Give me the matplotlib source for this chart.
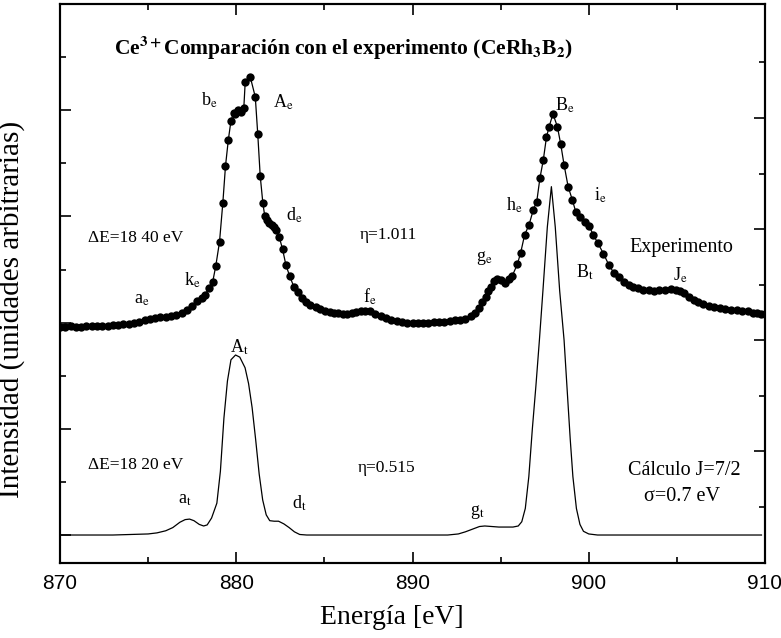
import matplotlib
matplotlib.use("Agg")
import matplotlib.pyplot as plt
from matplotlib.ticker import MultipleLocator, FixedLocator

plt.rcParams['font.family'] = ['Liberation Serif', 'DejaVu Serif']
plt.rcParams['mathtext.fontset'] = 'stix'

exp_energy = [
    870.0, 870.3, 870.6, 870.9, 871.2, 871.5, 871.8, 872.1, 872.4, 872.7,
    873.0, 873.3, 873.6, 873.9, 874.2, 874.5, 874.8, 875.1, 875.4, 875.7,
    876.0, 876.3, 876.6, 876.9, 877.2, 877.5, 877.8, 878.05, 878.24, 878.43,
    878.66, 878.84, 879.05, 879.24, 879.39, 879.55, 879.7, 879.85, 879.94, 880.09,
    880.25, 880.43, 880.51, 880.8, 881.08, 881.22, 881.36, 881.51, 881.62, 881.74,
    881.88, 882.02, 882.15, 882.27, 882.44, 882.63, 882.82, 883.03, 883.26, 883.49,
    883.73, 883.95, 884.2, 884.5, 884.77, 885.05, 885.3, 885.53, 885.8, 886.05,
    886.3, 886.55, 886.8, 887.05, 887.3, 887.6, 887.9, 888.2, 888.5, 888.8,
    889.1, 889.4, 889.7, 890.0, 890.3, 890.6, 890.9, 891.2, 891.5, 891.8,
    892.1, 892.4, 892.7, 893.0, 893.3, 893.55, 893.77, 893.95, 894.15, 894.3,
    894.43, 894.6, 894.81, 895.0, 895.23, 895.45, 895.66, 895.95, 896.14, 896.36,
    896.61, 896.86, 897.05, 897.23, 897.42, 897.6, 897.75, 897.97, 898.22, 898.41,
    898.6, 898.83, 899.07, 899.26, 899.5, 899.77, 900.02, 900.26, 900.53, 900.83,
    901.15, 901.44, 901.7, 902.0, 902.3, 902.5, 902.77, 903.05, 903.4, 903.71,
    904.0, 904.35, 904.66, 904.95, 905.2, 905.42, 905.7, 905.95, 906.18, 906.5,
    906.8, 907.12, 907.45, 907.75, 908.07, 908.4, 908.7, 909.02, 909.3, 909.55,
    909.77, 910.0,
]
exp_intensity = [
    3.92, 3.92, 3.93, 3.92, 3.92, 3.93, 3.93, 3.93, 3.94, 3.94,
    3.95, 3.95, 3.97, 3.98, 4.00, 4.02, 4.04, 4.06, 4.08, 4.10,
    4.11, 4.13, 4.15, 4.18, 4.24, 4.31, 4.40, 4.47, 4.52, 4.65,
    4.76, 5.07, 5.52, 6.26, 6.95, 7.44, 7.80, 7.95, 7.92, 8.00,
    7.97, 8.05, 8.54, 8.62, 8.25, 7.55, 6.76, 6.25, 6.00, 5.93,
    5.88, 5.84, 5.80, 5.74, 5.61, 5.38, 5.08, 4.88, 4.68, 4.58,
    4.46, 4.38, 4.33, 4.29, 4.25, 4.22, 4.20, 4.19, 4.18, 4.17,
    4.17, 4.18, 4.20, 4.21, 4.22, 4.21, 4.17, 4.12, 4.08, 4.05,
    4.03, 4.01, 4.00, 3.99, 3.99, 4.00, 4.00, 4.01, 4.01, 4.02,
    4.03, 4.04, 4.05, 4.07, 4.12, 4.19, 4.27, 4.38, 4.49, 4.60,
    4.68, 4.78, 4.83, 4.80, 4.75, 4.82, 4.88, 5.10, 5.32, 5.65,
    5.84, 6.13, 6.28, 6.72, 7.06, 7.49, 7.69, 7.93, 7.69, 7.36,
    6.97, 6.56, 6.31, 6.09, 5.99, 5.90, 5.82, 5.65, 5.49, 5.30,
    5.08, 4.93, 4.85, 4.77, 4.71, 4.68, 4.65, 4.62, 4.61, 4.60,
    4.61, 4.62, 4.63, 4.62, 4.59, 4.55, 4.49, 4.43, 4.39, 4.35,
    4.32, 4.30, 4.28, 4.26, 4.24, 4.23, 4.22, 4.21, 4.19, 4.18,
    4.17, 4.16,
]

# calculated spectrum (thin line)
calc_energy = [
    870.0, 871.0, 872.0, 873.0, 874.0, 875.0, 875.5, 876.0, 876.4, 876.8,
    877.1, 877.35, 877.6, 877.9, 878.15, 878.35, 878.6, 878.9, 879.1, 879.3,
    879.5, 879.7, 879.96, 880.2, 880.5, 880.7, 880.9, 881.1, 881.3, 881.5,
    881.7, 881.9, 882.15, 882.4, 882.7, 883.0, 883.3, 883.6, 884.0, 886.0,
    888.0, 890.0, 892.0, 892.6, 893.0, 893.4, 893.8, 894.1, 894.5, 894.9,
    895.3, 895.7, 896.0, 896.2, 896.4, 896.6, 896.8, 897.0, 897.2, 897.4,
    897.65, 897.88, 898.1, 898.35, 898.6, 898.8, 898.95, 899.1, 899.3, 899.5,
    899.7, 900.0, 900.5, 903.0, 906.0, 909.8,
]
calc_intensity = [
    0.0, 0.0, 0.0, 0.0, 0.01, 0.02, 0.04, 0.08, 0.14, 0.24,
    0.29, 0.30, 0.27, 0.20, 0.17, 0.19, 0.32, 0.60, 1.20, 2.20,
    2.90, 3.30, 3.39, 3.35, 3.15, 2.85, 2.40, 1.80, 1.15, 0.66,
    0.38, 0.27, 0.26, 0.26, 0.21, 0.14, 0.06, 0.01, 0.0, 0.0,
    0.0, 0.0, 0.0, 0.02, 0.06, 0.11, 0.16, 0.17, 0.16, 0.15,
    0.15, 0.15, 0.17, 0.25, 0.50, 1.10, 2.00, 2.80, 3.67, 4.60,
    5.80, 6.56, 5.80, 4.60, 3.67, 2.60, 1.80, 1.10, 0.50, 0.20,
    0.07, 0.02, 0.0, 0.0, 0.0, 0.0,
]

# peak labels: (letter, subscript, energy, intensity)
peak_labels = [
    ("b", "e", 878.5, 8.19), ("A", "e", 882.65, 8.14), ("d", "e", 883.3, 6.03),
    ("k", "e", 877.5, 4.80), ("a", "e", 874.65, 4.43), ("f", "e", 887.6, 4.48),
    ("g", "e", 894.1, 5.22), ("h", "e", 895.8, 6.21), ("B", "e", 898.65, 8.10),
    ("i", "e", 900.64, 6.40), ("J", "e", 905.2, 4.90), ("B", "t", 899.8, 4.95),
    ("A", "t", 880.2, 3.54), ("a", "t", 877.1, 0.66), ("d", "t", 883.6, 0.60),
    ("g", "t", 893.7, 0.43),
]

fig = plt.figure(figsize=(7.81, 6.38), dpi=100)
ax = fig.add_axes([60/781, 75/638, 705/781, 559/638])

ax.plot(exp_energy, exp_intensity, color='black', lw=0.9, marker='o',
        markersize=6, markeredgewidth=0)
ax.plot(calc_energy, calc_intensity, color='black', lw=0.9)

ax.set_xlim(870, 910)
ax.set_ylim(-0.527, 10.0)

ax.xaxis.set_major_locator(MultipleLocator(10))
ax.xaxis.set_minor_locator(MultipleLocator(5))
ax.yaxis.set_major_locator(FixedLocator([0, 2, 4, 6, 8]))
ax.yaxis.set_minor_locator(FixedLocator([1, 3, 5, 7, 9]))
ax.tick_params(which='both', direction='in', top=True, right=False, width=1.2)
ax.tick_params(which='major', length=8)
ax.tick_params(which='minor', length=4)
ax.tick_params(axis='x', labelsize=15, labelfontfamily='Liberation Sans', pad=8)
ax.set_yticklabels([])

# right axis has its own tick spacing
ax2 = ax.twinx()
ax2.set_ylim(-1.007, 9.05)
ax2.yaxis.set_major_locator(FixedLocator([1, 3, 5, 7]))
ax2.yaxis.set_minor_locator(FixedLocator([0, 2, 4, 6, 8]))
ax2.tick_params(which='both', direction='in', width=1.2, labelright=False)
ax2.tick_params(which='major', length=8)
ax2.tick_params(which='minor', length=4)

for a in (ax, ax2):
    for s in a.spines.values():
        s.set_linewidth(1.5)

ax.set_xlabel("Energía [eV]", fontsize=20)
ax.xaxis.set_label_coords(0.47, -0.075)
ax.set_ylabel("Intensidad (unidades arbitrarias)", fontsize=21)
ax.yaxis.set_label_coords(-0.049, 0.454)

ax.text(886.1, 9.17, r"Ce$^{\mathbf{3+}}$Comparación con el experimento (CeRh$_{\mathbf{3}}$B$_{\mathbf{2}}$)",
        fontsize=15.5, fontweight='bold', ha='center', va='center')

for main, sub, x, y in peak_labels:
    ax.text(x, y, main + r"$_\mathrm{" + sub + "}$", fontsize=13, ha='center', va='center')

ax.text(871.6, 5.59, "ΔE=18 40 eV", fontsize=12.5, ha='left', va='center')
ax.text(887.0, 5.65, "η=1.011", fontsize=12.5, ha='left', va='center')
ax.text(902.3, 5.42, "Experimento", fontsize=14.5, ha='left', va='center')
ax.text(871.6, 1.32, "ΔE=18 20 eV", fontsize=12.5, ha='left', va='center')
ax.text(886.9, 1.26, "η=0.515", fontsize=12.5, ha='left', va='center')
ax.text(905.4, 1.22, "Cálculo J=7/2", fontsize=14.5, ha='center', va='center')
ax.text(905.3, 0.72, "σ=0.7 eV", fontsize=14.5, ha='center', va='center')

fig.savefig("out.png", dpi=100)
